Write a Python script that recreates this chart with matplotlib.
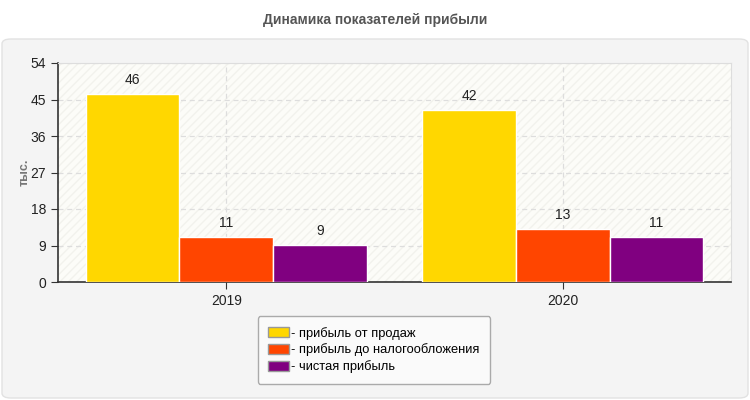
import numpy as np
import matplotlib
matplotlib.use("Agg")
import matplotlib.pyplot as plt
from matplotlib.patches import FancyBboxPatch

# ── Data ──────────────────────────────────────────────────────────────────────
years = ["2019", "2020"]
series_names = ["- прибыль от продаж",
                "- прибыль до налогообложения",
                "- чистая прибыль"]
sales_profit = [46.3, 42.4]
pretax_profit = [11.1, 13.0]
net_profit = [9.1, 11.1]
value_labels = [["46", "42"], ["11", "13"], ["9", "11"]]
y_ticks = [0, 9, 18, 27, 36, 45, 54]

colors = ["#FFD700", "#FF4500", "#800080"]

plt.rcParams["font.family"] = ["Liberation Sans", "DejaVu Sans"]
plt.rcParams["hatch.color"] = "#f2f2ed"

fig = plt.figure(figsize=(7.5, 4), dpi=100)
fig.patch.set_facecolor("white")

# outer panel
panel = FancyBboxPatch((2 / 750, 2 / 400), 746 / 750, 359 / 400,
                       boxstyle="round,pad=0,rounding_size=0.012",
                       transform=fig.transFigure, facecolor="#f4f4f4",
                       edgecolor="#e2e2e2", lw=1, zorder=-10)
fig.patches.append(panel)

fig.text(0.5, 1 - 20 / 400, "Динамика показателей прибыли", ha="center",
         va="center", fontsize=10, fontweight="bold", color="#555555")

ax = fig.add_axes([58 / 750, 118 / 400, 673 / 750, 219 / 400], zorder=1)
ax.set_facecolor("#fcfcf8")
# faint diagonal hatching in the plot area
ax.bar([0.5], [54], width=2.0, color="#fcfcf8", hatch="////",
       edgecolor="#f2f2ed", lw=0, zorder=0)

x = np.arange(len(years))
w = 0.278
for i, (vals, name) in enumerate(zip([sales_profit, pretax_profit, net_profit],
                                     series_names)):
    pos = x + (i - 1) * w
    ax.bar(pos, vals, width=w, color=colors[i], edgecolor="white", lw=1,
           label=name, zorder=3)
    for p, v, t in zip(pos, vals, value_labels[i]):
        ax.text(p, v + 1.7, t, ha="center", va="bottom", fontsize=10,
                color="#222222", zorder=4)

ax.set_xlim(-0.5, 1.5)
ax.set_ylim(0, 54)
ax.set_yticks(y_ticks)
ax.set_xticks(x)
ax.set_xticklabels(years)
ax.tick_params(axis="both", labelsize=10, colors="#333333", length=5,
               labelcolor="#222222")
ax.grid(True, ls=(0, (4, 3)), color="#dddddd", lw=0.9, zorder=1)
ax.set_axisbelow(True)
for s in ["top", "right"]:
    ax.spines[s].set_color("#dddddd")
for s in ["left", "bottom"]:
    ax.spines[s].set_color("#333333")
    ax.spines[s].set_linewidth(1.2)

ax.set_ylabel("тыс.", fontsize=9, fontweight="bold", color="#777777")
ax.yaxis.set_label_coords(-0.04, 0.5)

leg = fig.legend(loc="center", bbox_to_anchor=(374 / 750, 1 - 350 / 400),
                 fontsize=9.3, frameon=True, fancybox=True, handlelength=1.6,
                 handleheight=0.8, handletextpad=0.2, labelspacing=0.3,
                 borderpad=0.8, borderaxespad=0)
leg.get_frame().set_facecolor("#fafafa")
leg.get_frame().set_edgecolor("#aaaaaa")
leg.get_frame().set_alpha(1)
for h in leg.legend_handles:
    h.set_edgecolor("#999999")
    h.set_linewidth(1)

fig.savefig("out.png", dpi=100)
